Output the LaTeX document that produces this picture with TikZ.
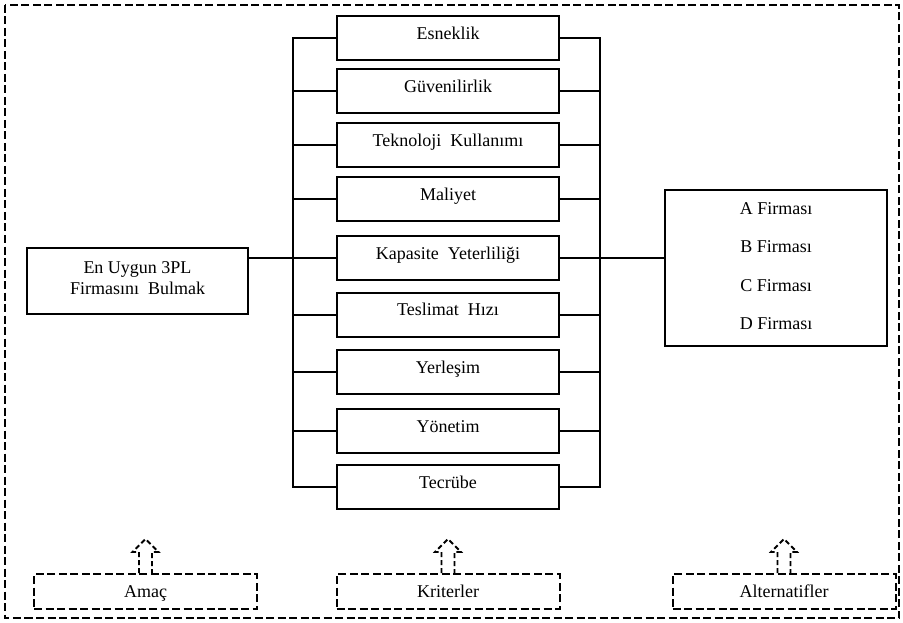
\documentclass[tikz,border=0pt]{standalone}
\usepackage{fontspec}
\setmainfont{Liberation Serif}
\usetikzlibrary{calc}
\tikzset{
  txt/.style={font=\fontsize{18}{21}\selectfont, inner sep=0pt},
  solidbox/.style={draw, line width=2pt, minimum width=222pt, minimum height=44pt, inner sep=0pt, font=\fontsize{18}{21}\selectfont, text height=12pt, text depth=9.5pt},
  bigbox/.style={draw, line width=2pt, inner sep=0pt},
  dbox/.style={draw, line width=2pt, dash pattern=on 8pt off 3.5pt, minimum width=223pt, minimum height=35pt, inner sep=0pt, font=\fontsize{18}{21}\selectfont, text height=12pt, text depth=0pt},
  conn/.style={line width=2pt},
  hollowarrow/.style={line width=1.8pt, dash pattern=on 5pt off 3pt, line join=miter},
}
\begin{document}
\begin{tikzpicture}[x=1pt,y=-1pt]
\useasboundingbox (0,0) rectangle (903,623);
% outer frame
\draw[line width=2pt, dash pattern=on 8pt off 3.5pt] (5,5) rectangle (899,618);

% criteria
\node[solidbox] (k1) at (448,38) {Esneklik};
\node[solidbox] (k2) at (448,91) {Güvenilirlik};
\node[solidbox] (k3) at (448,145) {Teknoloji\ \ Kullanımı};
\node[solidbox] (k4) at (448,199.5) {Maliyet};
\node[solidbox] (k5) at (448,258) {Kapasite\ \ Yeterliliği};
\node[solidbox] (k6) at (448,314.5) {Teslimat\ \ Hızı};
\node[solidbox] (k7) at (448,372) {Yerleşim};
\node[solidbox] (k8) at (448,431) {Yönetim};
\node[solidbox] (k9) at (448,487) {Tecrübe};

% buses
\coordinate (lbx) at (293,0);
\coordinate (rbx) at (600,0);
\draw[conn] (k1.west) -- (k1.west -| lbx) -- (k9.west -| lbx) -- (k9.west);
\draw[conn] (k1.east) -- (k1.east -| rbx) -- (k9.east -| rbx) -- (k9.east);
\foreach \i in {2,...,8}{
  \draw[conn] (k\i.west) -- (k\i.west -| lbx);
  \draw[conn] (k\i.east) -- (k\i.east -| rbx);
}

% goal
\node[bigbox, minimum width=221pt, minimum height=66pt] (goal) at (137.5,281) {};
\node[txt, align=center] (goaltext) at (137.5,278) {En Uygun 3PL\\Firmasını\ \ Bulmak};
\draw[conn] (goal.east |- k5.west) -- (k5.west -| lbx);

% alternatives
\node[bigbox, minimum width=222pt, minimum height=156pt] (alt) at (776,268) {};
\node[txt] (a1) at (776,209) {A Firması};
\node[txt] (a2) at (776,247) {B Firması};
\node[txt] (a3) at (776,286) {C Firması};
\node[txt] (a4) at (776,324) {D Firması};
\draw[conn] (alt.west |- k5.east) -- (k5.east -| rbx);

% bottom labels
\node[dbox] (amac) at (145.5,591.5) {Amaç};
\node[dbox] (krit) at (448,591.5) {Kriterler};
\node[dbox] (alter) at (784,591.5) {Alternatifler};

\foreach \n in {amac,krit,alter}{
  \draw[hollowarrow] ($(\n.north)+(-6.5,0)$) -- ++(0,-21) -- ++(-6.5,0) -- ++(13,-13) -- ++(13,13) -- ++(-6.5,0) -- ++(0,21);
}
\end{tikzpicture}
\end{document}
